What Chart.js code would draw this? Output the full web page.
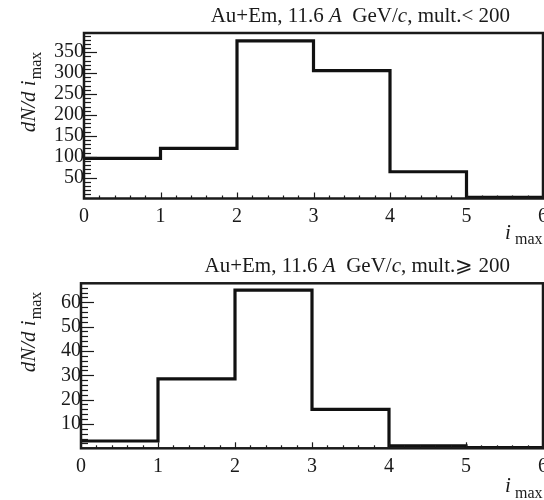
<!DOCTYPE html>
<html>
<head>
<meta charset="utf-8">
<script src="https://cdn.jsdelivr.net/npm/chart.js@4/dist/chart.umd.min.js"></script>
<style>
html,body{margin:0;padding:0;background:#fff;}
canvas{display:block;}
#wrap{position:relative;width:544px;height:500px;}
#c1{position:absolute;left:0;top:0;}
#c2{position:absolute;left:0;top:250px;}
</style>
</head>
<body>
<div id="wrap">
<canvas id="c1" width="544" height="250"></canvas>
<canvas id="c2" width="544" height="250"></canvas>
</div>
<script>
// ---- data ----
const binEdges = [0, 1, 2, 3, 4, 5, 6];
const countsLowMult = [96, 120, 377, 306, 64, 3];
const countsHighMult = [3, 28.5, 65, 16, 1, 0.3];
const xTickValues = [0, 1, 2, 3, 4, 5, 6];
const yTicksLow = [50, 100, 150, 200, 250, 300, 350];
const yTicksHigh = [10, 20, 30, 40, 50, 60];
const titleLow = [["Au+Em, 11.6", "n"], [" A", "i"], ["  GeV/", "n"], ["c", "i"], [", mult.< 200", "n"]];
const titleHigh = [["Au+Em, 11.6", "n"], [" A", "i"], ["  GeV/", "n"], ["c", "i"], [", mult.\u2A7E 200", "n"]];

const FONT = "'Liberation Serif','Times New Roman',serif";
const INK = '#1a1a1a';

function points(counts) {
  return binEdges.map((e, i) => ({ x: e, y: counts[Math.min(i, counts.length - 1)] }));
}

function decorPlugin(cfg) {
  return {
    id: 'decor',
    afterDraw(chart) {
      const ctx = chart.ctx;
      const a = chart.chartArea;
      const xs = chart.scales.x, ys = chart.scales.y;
      ctx.save();
      ctx.strokeStyle = INK;
      // y ticks inside
      ctx.lineWidth = 1.2;
      for (let v = cfg.minorY; v < ys.max; v += cfg.minorY) {
        const y = Math.round(ys.getPixelForValue(v)) + 0.5;
        const major = Math.abs(v / cfg.majorY - Math.round(v / cfg.majorY)) < 1e-6;
        ctx.beginPath();
        ctx.moveTo(a.left, y);
        ctx.lineTo(a.left + (major ? 13 : 7), y);
        ctx.stroke();
      }
      // x ticks inside
      for (let v = 0.2; v < 6; v += 0.2) {
        const x = Math.round(xs.getPixelForValue(v)) + 0.5;
        const major = Math.abs(v - Math.round(v)) < 1e-6;
        ctx.beginPath();
        ctx.moveTo(x, a.bottom);
        ctx.lineTo(x, a.bottom - (major ? 6 : 3));
        ctx.stroke();
      }
      // frame
      ctx.lineWidth = 2.5;
      ctx.strokeRect(a.left, a.top, a.right - a.left, a.bottom - a.top);
      // title
      ctx.fillStyle = INK;
      ctx.textBaseline = 'alphabetic';
      ctx.textAlign = 'left';
      let total = 0;
      const fnt = s => (s === 'i' ? 'italic ' : '') + '21px ' + FONT;
      cfg.title.forEach(([t, s]) => { ctx.font = fnt(s); total += ctx.measureText(t).width; });
      let tx = cfg.titleRight - total;
      cfg.title.forEach(([t, s]) => { ctx.font = fnt(s); ctx.fillText(t, tx, cfg.titleBase); tx += ctx.measureText(t).width; });
      // x title
      ctx.font = 'italic 21px ' + FONT;
      ctx.fillText('i', 505, cfg.xTitleBase);
      ctx.font = '16px ' + FONT;
      ctx.fillText('max', 515, cfg.xSubBase);
      // y title
      ctx.save();
      ctx.translate(35, cfg.yTitleCenter);
      ctx.rotate(-Math.PI / 2);
      ctx.font = 'italic 21px ' + FONT;
      const m1 = ctx.measureText('dN/d i').width;
      ctx.font = '16px ' + FONT;
      const m2 = ctx.measureText('max').width;
      const start = -(m1 + m2 + 1) / 2;
      ctx.font = 'italic 21px ' + FONT;
      ctx.fillText('dN/d i', start, 0);
      ctx.font = '16px ' + FONT;
      ctx.fillText('max', start + m1 + 1, 6);
      ctx.restore();
      ctx.restore();
    }
  };
}

function makeChart(id, counts, yMax, yTicks, cfg) {
  return new Chart(document.getElementById(id), {
    type: 'line',
    data: {
      datasets: [{
        data: points(counts),
        stepped: true,
        borderColor: '#111',
        borderWidth: 3.2,
        pointRadius: 0,
        fill: false
      }]
    },
    options: {
      responsive: false,
      animation: false,
      devicePixelRatio: 1,
      layout: { autoPadding: false, padding: { top: cfg.padTop, right: 1, left: 0, bottom: 0 } },
      plugins: { legend: { display: false }, tooltip: { enabled: false }, title: { display: false } },
      scales: {
        x: {
          type: 'linear', min: 0, max: 6,
          grid: { display: false, drawTicks: false },
          border: { display: false },
          afterBuildTicks: s => { s.ticks = xTickValues.map(v => ({ value: v })); },
          afterFit: s => { s.height = cfg.xH; s.paddingLeft = 0; s.paddingRight = 0; },
          ticks: { color: INK, font: { family: FONT, size: 20 }, padding: 6, maxRotation: 0, autoSkip: false }
        },
        y: {
          type: 'linear', min: 0, max: yMax,
          grid: { display: false, drawTicks: false },
          border: { display: false },
          afterBuildTicks: s => { s.ticks = yTicks.map(v => ({ value: v })); },
          afterFit: s => { s.width = cfg.yW; s.paddingTop = 0; s.paddingBottom = 0; },
          ticks: { color: INK, font: { family: FONT, size: 20 }, padding: 0, autoSkip: false }
        }
      }
    },
    plugins: [decorPlugin(cfg)]
  });
}

makeChart('c1', countsLowMult, 396, yTicksLow, {
  padTop: 33, xH: 51.5, yW: 84, minorY: 10, majorY: 50,
  title: titleLow, titleRight: 510, titleBase: 22, xTitleBase: 239, xSubBase: 244, yTitleCenter: 92
});
makeChart('c2', countsHighMult, 67.8, yTicksHigh, {
  padTop: 33.3, xH: 51.7, yW: 81, minorY: 2, majorY: 10,
  title: titleHigh, titleRight: 510, titleBase: 22, xTitleBase: 242, xSubBase: 248, yTitleCenter: 82
});
</script>
</body>
</html>
